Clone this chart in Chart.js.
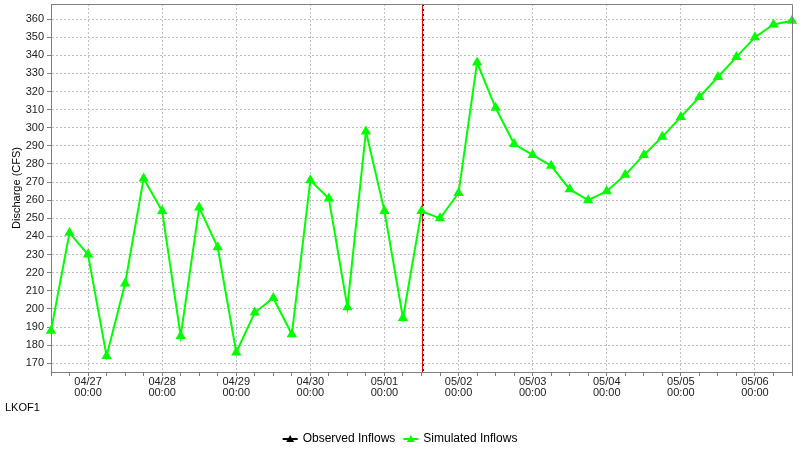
<!DOCTYPE html>
<html><head><meta charset="utf-8">
<script src="https://cdn.jsdelivr.net/npm/chart.js@4.4.1/dist/chart.umd.min.js"></script>
<style>html,body{margin:0;padding:0;background:#fff}#wrap{width:800px;height:450px;position:relative}</style>
</head><body><div id="wrap"><canvas id="c" width="800" height="450"></canvas></div>
<script>
// ---- data ----
const timeLabels = [
  "04/26 12:00","04/26 18:00",
  "04/27 00:00","04/27 06:00","04/27 12:00","04/27 18:00",
  "04/28 00:00","04/28 06:00","04/28 12:00","04/28 18:00",
  "04/29 00:00","04/29 06:00","04/29 12:00","04/29 18:00",
  "04/30 00:00","04/30 06:00","04/30 12:00","04/30 18:00",
  "05/01 00:00","05/01 06:00","05/01 12:00","05/01 18:00",
  "05/02 00:00","05/02 06:00","05/02 12:00","05/02 18:00",
  "05/03 00:00","05/03 06:00","05/03 12:00","05/03 18:00",
  "05/04 00:00","05/04 06:00","05/04 12:00","05/04 18:00",
  "05/05 00:00","05/05 06:00","05/05 12:00","05/05 18:00",
  "05/06 00:00","05/06 06:00","05/06 12:00"
];
const simulatedInflows = [
  188, 242, 230, 174, 214, 272, 254, 185, 256, 234,
  176, 198, 206, 186, 271, 261, 201, 298, 254, 195,
  254, 250, 264, 336, 311, 291, 285, 279, 266, 260,
  265, 274, 285, 295, 306, 317, 328, 339, 350, 357, 359
];
const observedInflows = [];
const seriesNames = ["Observed Inflows", "Simulated Inflows"];
const yTickValues = [170, 180, 190, 200, 210, 220, 230, 240, 250, 260, 270, 280, 290, 300, 310, 320, 330, 340, 350, 360];
const yAxisTitle = "Discharge (CFS)";
const locationId = "LKOF1";
const forecastTimeLabel = "05/01 12:00";
const yMin = 165.2, yMax = 368.3;

const FONT = "'Liberation Sans', Arial, sans-serif";
const GRID = '#c0c0c0', AXIS = '#808080';

function drawMarker(ctx, x, y, color) {
  ctx.save();
  ctx.strokeStyle = color; ctx.fillStyle = color; ctx.lineWidth = 2;
  ctx.beginPath(); ctx.moveTo(x, y); ctx.lineTo(x + 15, y); ctx.stroke();
  ctx.beginPath();
  ctx.moveTo(x + 7.5, y - 4); ctx.lineTo(x + 11.5, y + 3); ctx.lineTo(x + 3.5, y + 3); ctx.closePath();
  ctx.fill();
  ctx.restore();
}

const extras = {
  id: 'extras',
  beforeDatasetsDraw(chart) {
    const {ctx, chartArea: a, scales: {x}} = chart;
    const fx = Math.round(x.getPixelForValue(timeLabels.indexOf(forecastTimeLabel)));
    ctx.save();
    ctx.strokeStyle = '#e00000'; ctx.lineWidth = 1;
    ctx.beginPath(); ctx.moveTo(fx + 0.5, a.top); ctx.lineTo(fx + 0.5, a.bottom); ctx.stroke();
    ctx.strokeStyle = '#400000'; ctx.lineWidth = 1; ctx.setLineDash([2, 3]);
    ctx.beginPath(); ctx.moveTo(fx + 1.5, a.top); ctx.lineTo(fx + 1.5, a.bottom); ctx.stroke();
    ctx.restore();
  },
  afterDraw(chart) {
    const {ctx, chartArea: a} = chart;
    ctx.save();
    ctx.strokeStyle = AXIS; ctx.lineWidth = 1;
    ctx.beginPath();
    ctx.moveTo(a.left, a.top + 0.5); ctx.lineTo(a.right + 0.5, a.top + 0.5);
    ctx.lineTo(a.right + 0.5, a.bottom);
    ctx.stroke();
    ctx.fillStyle = '#000'; ctx.font = '11px ' + FONT; ctx.textBaseline = 'middle'; ctx.textAlign = 'left';
    ctx.fillText(locationId, 5, 408);
    ctx.font = '12px ' + FONT;
    const colors = ['#000000', '#00ff00'];
    const w = seriesNames.map(n => ctx.measureText(n).width);
    const total = 15 + 5 + w[0] + 8 + 15 + 5 + w[1];
    let lx = 400 - total / 2;
    const ly = 439;
    seriesNames.forEach((n, i) => {
      drawMarker(ctx, lx, ly, colors[i]);
      ctx.fillStyle = '#000';
      ctx.fillText(n, lx + 20, ly);
      lx += 20 + w[i] + 8;
    });
    ctx.restore();
  }
};

new Chart(document.getElementById('c'), {
  type: 'line',
  data: {
    labels: timeLabels,
    datasets: [
      { label: seriesNames[0], data: observedInflows, borderColor: '#000', backgroundColor: '#000',
        pointStyle: 'triangle', pointRadius: 4, borderWidth: 2 },
      { label: seriesNames[1], data: simulatedInflows, borderColor: '#00ff00', backgroundColor: '#00ff00',
        pointStyle: 'triangle', pointRadius: 4, pointHoverRadius: 4, borderWidth: 2, tension: 0 }
    ]
  },
  options: {
    responsive: false, animation: false,
    layout: { autoPadding: false, padding: { left: 0, top: 4, right: 8, bottom: 0 } },
    plugins: { legend: { display: false }, tooltip: { enabled: false } },
    scales: {
      x: {
        type: 'category', offset: false,
        afterFit(s) { s.height = 78; s.paddingLeft = 0; s.paddingRight = 0; },
        grid: {
          color: c => (timeLabels[c.index] || '').endsWith('00:00') ? GRID : 'rgba(0,0,0,0)',
          tickColor: AXIS, tickLength: 4, drawTicks: true
        },
        border: { display: true, color: AXIS, width: 1, dash: [2, 2] },
        ticks: {
          autoSkip: false, maxRotation: 0, minRotation: 0, padding: 0,
          color: '#222', font: { family: FONT, size: 11, lineHeight: 1.0 },
          callback(v, i) { const l = timeLabels[i]; return l.endsWith('00:00') ? l.split(' ') : ''; }
        }
      },
      y: {
        min: yMin, max: yMax,
        afterBuildTicks(s) { s.ticks = yTickValues.map(v => ({ value: v })); },
        afterFit(s) { s.width = 51; s.paddingTop = 0; s.paddingBottom = 0; },
        grid: { color: GRID, tickColor: AXIS, tickLength: 4 },
        border: { display: true, color: AXIS, width: 1, dash: [2, 2] },
        ticks: { autoSkip: false, padding: 3, color: '#222', font: { family: FONT, size: 11 } },
        title: { display: true, text: yAxisTitle, color: '#000', font: { family: FONT, size: 11 }, padding: { top: 10, bottom: 0 } }
      }
    }
  },
  plugins: [extras]
});
</script></body></html>
